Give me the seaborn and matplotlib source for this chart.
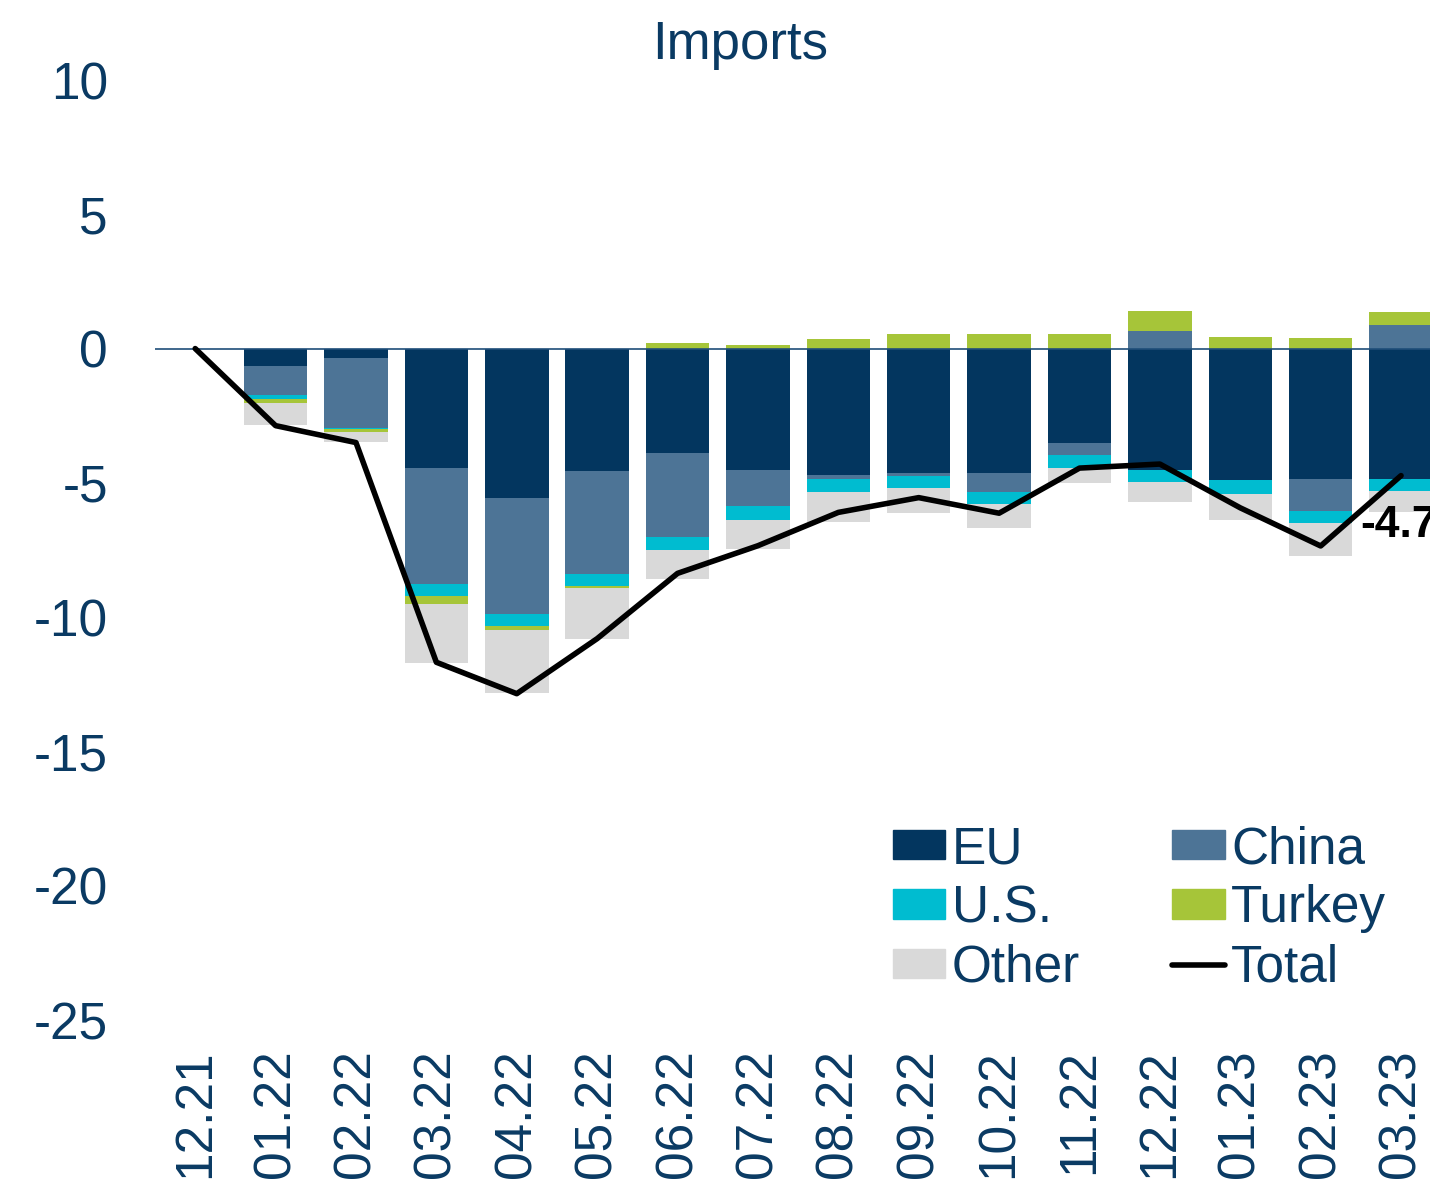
import numpy as np
import pandas as pd
import matplotlib
matplotlib.use("Agg")
import matplotlib.pyplot as plt
from matplotlib.patches import Patch
from matplotlib.lines import Line2D
import seaborn as sns

# ---------------- data ----------------
months = ["12.21", "01.22", "02.22", "03.22", "04.22", "05.22", "06.22", "07.22",
          "08.22", "09.22", "10.22", "11.22", "12.22", "01.23", "02.23", "03.23"]
eu     = [0, -0.65, -0.35, -4.45, -5.56, -4.57, -3.88, -4.51, -4.71, -4.63, -4.62, -3.53, -4.52, -4.88, -4.84, -4.84]
china  = [0, -1.07, -2.60, -4.30, -4.34, -3.81, -3.15, -1.37, -0.16, -0.12, -0.72, -0.42, 0.65, -0.02, -1.20, 0.86]
us     = [0, -0.15, -0.05, -0.46, -0.44, -0.47, -0.47, -0.49, -0.47, -0.44, -0.46, -0.50, -0.44, -0.51, -0.47, -0.48]
turkey = [0, -0.15, -0.10, -0.31, -0.15, -0.08, 0.19, 0.13, 0.34, 0.54, 0.54, 0.54, 0.75, 0.42, 0.39, 0.50]
other  = [0, -0.83, -0.37, -2.17, -2.34, -1.90, -1.08, -1.10, -1.12, -0.94, -0.88, -0.56, -0.75, -0.97, -1.23, -0.78]
total  = [0, -2.87, -3.50, -11.68, -12.85, -10.80, -8.37, -7.34, -6.10, -5.55, -6.13, -4.45, -4.30, -5.93, -7.35, -4.73]
last_label = "-4.7"

series_names = ["EU", "China", "U.S.", "Turkey", "Other"]
series_vals = [eu, china, us, turkey, other]
colors = {"EU": "#03365f", "China": "#4d7496", "U.S.": "#00bcd0",
          "Turkey": "#a6c539", "Other": "#d9d9d9"}
text_color = "#0a3a63"

# ---------------- style ----------------
sns.set_theme(style="white")
plt.rcParams["font.family"] = ["Liberation Sans", "DejaVu Sans"]

W, H = 1430, 1186
fig = plt.figure(figsize=(W / 100, H / 100), dpi=100)
ax = fig.add_axes([155 / W, 1 - 1020 / H, (1430 - 155) / W, (1020 - 80) / H])

n = len(months)
pos_base = np.zeros(n)
neg_base = np.zeros(n)
for name, vals in zip(series_names, series_vals):
    v = np.array(vals, dtype=float)
    bottom = np.where(v >= 0, pos_base, neg_base)
    df = pd.DataFrame({"month": months, "value": v})
    sns.barplot(data=df, x="month", y="value", order=months, color=colors[name],
                bottom=bottom, width=0.79, saturation=1, ax=ax, linewidth=0,
                errorbar=None)
    pos_base = pos_base + np.where(v >= 0, v, 0)
    neg_base = neg_base + np.where(v < 0, v, 0)

ax.axhline(0, color="#1f4e79", lw=1.2, zorder=3)

sns.lineplot(x=np.arange(n), y=total, color="black", lw=4, ax=ax, zorder=4)

ax.text(n - 1 - 0.51, -6.6, last_label, ha="left", va="center", fontsize=32,
        fontweight="bold", color="black", clip_on=False)

ax.set_xlim(-0.5, 15.36)
ax.set_ylim(-25, 10)
ax.set_yticks([10, 5, 0, -5, -10, -15, -20, -25])
ax.set_yticklabels(["10", "5", "0", "-5", "-10", "-15", "-20", "-25"])
ax.set_xticks(np.arange(n))
ax.set_xticklabels(months, rotation=90)
ax.tick_params(axis="y", length=0, pad=34, labelsize=37, labelcolor=text_color)
ax.tick_params(axis="x", length=0, pad=21, labelsize=37, labelcolor=text_color)
ax.set_xlabel("")
ax.set_ylabel("")
for s in ax.spines.values():
    s.set_visible(False)

fig.text(740 / W, 1 - 45 / H, "Imports", ha="center", va="center",
         fontsize=38, color=text_color)

handles = [Patch(color=colors["EU"]), Patch(color=colors["U.S."]), Patch(color=colors["Other"]),
           Patch(color=colors["China"]), Patch(color=colors["Turkey"]),
           Line2D([], [], color="black", lw=4)]
labels = ["EU", "U.S.", "Other", "China", "Turkey", "Total"]
leg = fig.legend(handles, labels, ncol=2, loc="upper left",
                 bbox_to_anchor=(893 / W, 1 - 825 / H), frameon=False,
                 fontsize=37, borderpad=0, borderaxespad=0,
                 handlelength=1.02, handleheight=0.5, handletextpad=0.12,
                 labelspacing=0.2, columnspacing=1.8)
for t in leg.get_texts():
    t.set_color(text_color)

fig.savefig("out.png", dpi=100)
